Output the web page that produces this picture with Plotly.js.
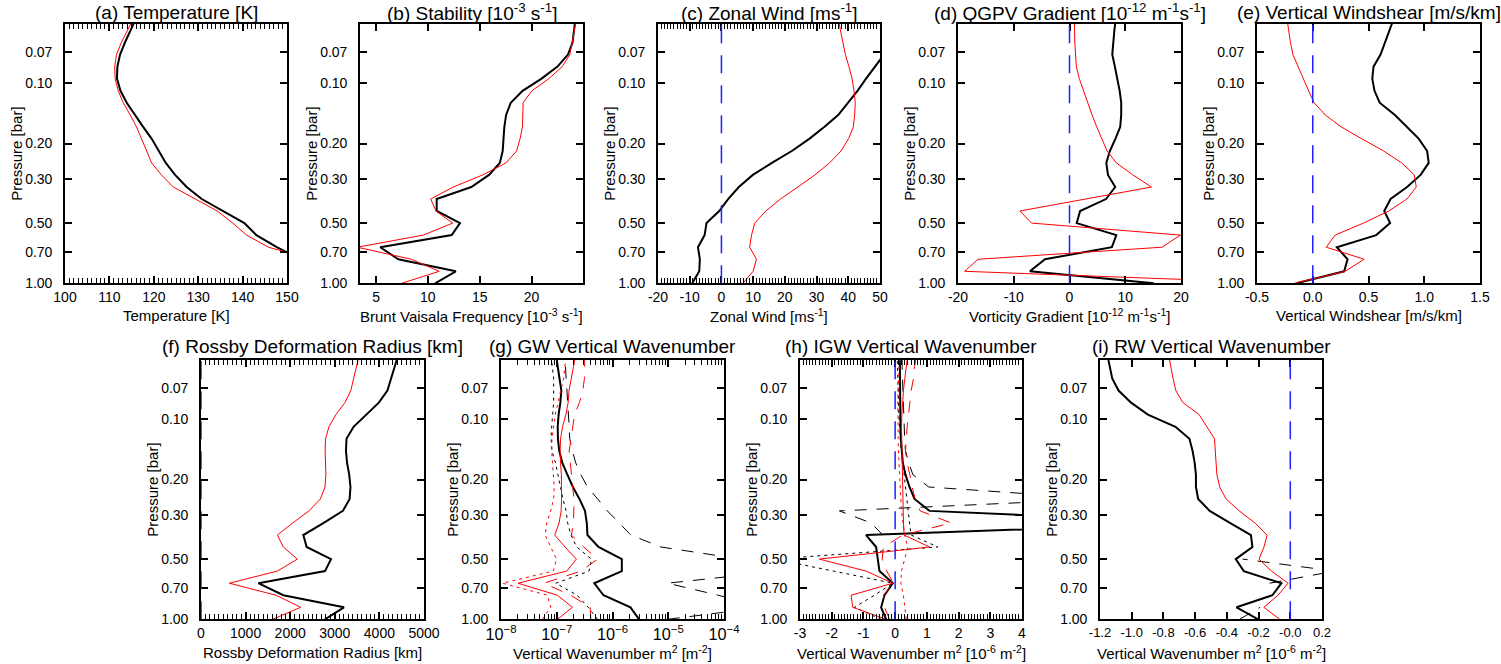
<!DOCTYPE html>
<html><head><meta charset="utf-8">
<script src="https://cdn.plot.ly/plotly-3.0.1.min.js"></script>
<style>html,body{margin:0;padding:0;background:#fff;} #chart{width:1501px;height:664px;}</style>
</head><body><div id="chart"></div>
<script>
// ---------------- DATA ----------------
// pressure levels [bar], bottom (1.0) to top
const pressure = [1.0, 0.871, 0.758, 0.660, 0.574, 0.500, 0.435, 0.379, 0.330, 0.287, 0.250, 0.218, 0.189, 0.165, 0.144, 0.125, 0.109, 0.0947, 0.0825, 0.0718, 0.0625, 0.0544, 0.0474];
const pressureTicks = [0.07, 0.1, 0.2, 0.3, 0.5, 0.7, 1.0];
const pressureTickText = ['0.07', '0.10', '0.20', '0.30', '0.50', '0.70', '1.00'];

// (a) Temperature [K]
const tempBlack = [161, 157, 153.1, 147.7, 143.1, 140.4, 135.5, 130.8, 127.4, 124.8, 122.7, 121.2, 119.5, 117.6, 115.8, 113.9, 112.5, 111.7, 111.8, 112.4, 113.5, 114.7, 116.0];
const tempRed   = [163, 160, 155.7, 145.8, 140.9, 137.8, 134.3, 129.2, 124.4, 121.7, 119.5, 118.4, 117.3, 116.1, 114.7, 113.1, 112.0, 111.3, 111.2, 111.6, 112.7, 114.0, 115.4];
// (b) Brunt Vaisala frequency [1e-3 s-1]
const bvBlack = [10.7, 12.7, 7.15, 5.4, 12.3, 13.1, 10.85, 10.85, 14.19, 15.9, 16.94, 17.22, 17.3, 17.38, 17.55, 18.0, 19.14, 20.97, 22.51, 23.52, 23.96, 24.1, 24.24];
const bvRed   = [7.47, 11.1, 8.4, 3.2, 9.56, 12.39, 10.78, 10.27, 12.45, 15.31, 17.54, 18.56, 18.9, 19.13, 19.16, 19.19, 20.04, 21.68, 22.96, 23.70, 23.93, 24.15, 24.34];
// (c) Zonal wind [m/s]
const windBlack = [-9.2, -7.0, -6.8, -7.4, -5.3, -4.7, -0.7, 2.1, 5.5, 9.9, 15.9, 22.2, 27.8, 32.5, 36.8, 40.0, 42.9, 45.6, 48.45, 51.3, 54.1, 56.9, 59.8];
const windRed   = [6.8, 10.0, 11.05, 8.9, 9.5, 10.5, 14.0, 18.6, 24.1, 29.5, 34.1, 37.7, 40.1, 41.6, 42.0, 42.2, 41.8, 41.2, 40.2, 39.1, 38.3, 37.6, 36.8];
// (d) QGPV gradient [1e-12 m-1 s-1]
const qgpvBlack = [15.1, -7.1, -4.4, 7.6, 8.4, 1.3, 1.9, 6.55, 8.2, 6.9, 6.6, 7.23, 8.25, 9.1, 9.27, 9.28, 9.0, 8.6, 8.14, 7.67, 7.8, 8.05, 8.3];
const qgpvRed   = [39, -18.8, -16.4, 16.6, 19.9, -6.8, -8.9, 3.1, 14.7, 11.35, 8.41, 6.74, 5.73, 4.88, 4.05, 3.26, 2.48, 1.76, 1.23, 1.05, 0.95, 0.9, 0.87];
// (e) Vertical windshear [m/s/km]
const shearBlack = [-0.148, 0.282, 0.312, 0.216, 0.569, 0.694, 0.641, 0.698, 0.846, 0.967, 1.04, 1.026, 0.95, 0.845, 0.737, 0.6, 0.554, 0.534, 0.545, 0.608, 0.65, 0.688, 0.727];
const shearRed   = [-0.166, 0.291, 0.461, 0.121, 0.201, 0.455, 0.681, 0.845, 0.928, 0.911, 0.798, 0.636, 0.437, 0.254, 0.113, 0.012, -0.037, -0.084, -0.127, -0.178, -0.2, -0.216, -0.231];
// (f) Rossby deformation radius [km]
const rossbyBlack = [2780, 3206, 1846, 1285, 2780, 2915, 2369, 2294, 2743, 3181, 3333, 3351, 3323, 3275, 3251, 3262, 3421, 3712, 3987, 4180, 4262, 4344, 4425];
const rossbyRed   = [1607, 2235, 1682, 635, 1712, 2160, 1846, 1712, 2055, 2422, 2677, 2780, 2800, 2792, 2783, 2792, 2869, 3023, 3228, 3359, 3419, 3491, 3550];
// (g) GW vertical wavenumber m^2 [m-2]
const gwBlack     = [3.0e-6, 2.1e-6, 6.9e-7, 4.7e-7, 1.47e-6, 1.47e-6, 5.6e-7, 3.55e-7, 3.46e-7, 3.21e-7, 2.55e-7, 1.95e-7, 1.55e-7, 1.26e-7, 1.11e-7, 1.05e-7, 1.04e-7, 1.08e-7, 1.16e-7, 1.21e-7, 1.12e-7, 1.05e-7, 9.7e-8];
const gwRed       = [1.03e-7, 1.91e-7, 1.03e-7, 2.02e-8, 1.51e-7, 2.25e-7, 1.41e-7, 9.2e-8, 1.10e-7, 1.20e-7, 1.22e-7, 1.23e-7, 1.21e-7, 1.17e-7, 1.15e-7, 1.17e-7, 1.27e-7, 1.46e-7, 1.60e-7, 1.66e-7, 1.85e-7, 2.0e-7, 2.19e-7];
const gwBlackDot  = [5.4e-7, 3.66e-7, 2.32e-7, 9.6e-8, 3.8e-7, 4.2e-7, 2.28e-7, 1.8e-7, 1.57e-7, 1.47e-7, 1.29e-7, 1.16e-7, 1.07e-7, 9.5e-8, 8.2e-8, 7.9e-8, 8.1e-8, 8.4e-8, 8.8e-8, 8.8e-8, 8.8e-8, 8.3e-8, 7.9e-8];
const gwRedDot    = [5.5e-8, 7.8e-8, 6.8e-8, 1.06e-8, 8.7e-8, 9.9e-8, 7.8e-8, 6.2e-8, 6.6e-8, 7.8e-8, 8.8e-8, 9.0e-8, 8.7e-8, 8.4e-8, 8.1e-8, 8.2e-8, 8.7e-8, 9.4e-8, 1.05e-7, 1.2e-7, 1.33e-7, 1.4e-7, 1.49e-7];
const gwBlackDash = [9.8e-6, 5e-4, 7.9e-5, 9.7e-6, 1e-3, 2e-4, 7.4e-6, 2.13e-6, 1.32e-6, 8.1e-7, 5.4e-7, 3.56e-7, 2.7e-7, 2.19e-7, 1.91e-7, 1.71e-7, 1.67e-7, 1.62e-7, 1.56e-7, 1.51e-7, 1.49e-7, 1.45e-7, 1.39e-7];
const gwRedDash   = [4.08e-7, 3.97e-7, 1.78e-7, 5.9e-8, 2.7e-7, 5.4e-7, 3.04e-7, 1.83e-7, 2.0e-7, 2.03e-7, 2.04e-7, 1.93e-7, 1.83e-7, 1.72e-7, 1.67e-7, 1.8e-7, 1.93e-7, 2.09e-7, 2.55e-7, 2.93e-7, 3.14e-7, 3.18e-7, 3.18e-7];
// (h) IGW vertical wavenumber m^2 [1e-6 m-2]
const igwBlack     = [-0.284, -0.442, -0.337, -0.074, -0.495, -0.547, -0.6, -0.916, 9.7, 1.084, 0.61, 0.453, 0.326, 0.242, 0.2, 0.179, 0.168, 0.163, 0.158, 0.158, 0.158, 0.147, 0.147];
const igwRed       = [-0.284, -1.337, -1.39, -0.074, -0.916, -2.39, 1.084, 0.284, 0.263, 0.253, 0.242, 0.232, 0.221, 0.211, 0.2, 0.2, 0.2, 0.211, 0.232, 0.263, 0.305, 0.347, 0.4];
const igwBlackDot  = [-0.442, -1.284, -0.653, -0.074, -1.94, -3.8, 1.347, 0.505, 0.453, 0.411, 0.379, 0.347, 0.305, 0.242, 0.189, 0.158, 0.137, 0.116, 0.105, 0.095, 0.084, 0.074, 0.063];
const igwRedDot    = [0.35, 0.3, 0.26, 0.18, 0.2, 0.3, 0.4, 0.3, 0.24, 0.2, 0.18, 0.158, 0.137, 0.116, 0.105, 0.095, 0.084, 0.084, 0.084, 0.095, 0.105, 0.116, 0.137];
const igwBlackDash = [null, null, null, null, null, null, null, -0.389, -0.758, -1.758, 6.56, 1.06, 0.558, 0.432, 0.326, 0.3, 0.284, 0.263, 0.242, 0.232, 0.232, 0.221, 0.221];
const igwRedDash   = [-0.179, -0.337, -0.368, -0.053, -0.263, -0.411, -0.368, 0.242, 1.768, 0.789, 0.632, 0.537, 0.463, 0.379, 0.326, 0.347, 0.379, 0.421, 0.463, 0.505, 0.579, 0.611, 0.684];
// (i) RW vertical wavenumber m^2 [1e-6 m-2]
const rwBlack     = [-0.203, -0.339, -0.113, -0.056, -0.293, -0.344, -0.239, -0.248, -0.378, -0.508, -0.581, -0.595, -0.595, -0.603, -0.616, -0.636, -0.724, -0.898, -1.004, -1.083, -1.123, -1.14, -1.154];
const rwRed       = [-0.066, -0.167, -0.077, -0.014, -0.119, -0.197, -0.166, -0.146, -0.222, -0.322, -0.405, -0.445, -0.463, -0.468, -0.472, -0.478, -0.526, -0.575, -0.677, -0.722, -0.739, -0.755, -0.768];
const rwBlackDash = [-0.32, -0.19, null, -0.13, 0.28, -0.30, null, null, null, null, null, null, null, null, null, null, null, null, null, null, null, null, null];

// x tick spacing per panel, and label replacements (ASCII minus etc.)
const tickStep = {a: 10, b: 5, c: 10, d: 10, e: 0.5, f: 1000, g: 1, h: 1, i: 0.2};
const minorStep = {a: 1, c: 1, f: 100, g: 'D1', h: 0.1};
const aliasMinus = {'\u22123': '-3', '\u22122': '-2', '\u22121': '-1', '\u221210': '-10', '\u221220': '-20', '\u22120.5': '-0.5'};
const aliasI = {'\u22121.2': '-1.2', '\u22121.0': '-1.0', '\u22120.8': '-0.8', '\u22120.6': '-0.6', '\u22120.4': '-0.4', '\u22120.2': '-0.2', '0.0': '-0.0'};

// ---------------- STYLE / LAYOUT ----------------
const FONT = 'Liberation Sans, Arial, Helvetica, sans-serif';
const W = 1501, H = 664;
const CLEAR = 'rgba(0,0,0,0)';
const PAD = '\u00a0\u00a0';
const BLACK = {color: 'black', width: 2, dash: 'solid'};
const RED = {color: 'red', width: 1, dash: 'solid'};
const BLACKDOT = {color: 'black', width: 1, dash: '3px,4px'};
const REDDOT = {color: 'red', width: 1, dash: '3px,4px'};
const BLACKDASH = {color: 'black', width: 1, dash: '12px,10px'};
const REDDASH = {color: 'red', width: 1, dash: '12px,10px'};

const ytitle = 'Pressure [bar]';
const panels = [
  {id: 'a', box: [65, 287, 24, 283.3], title: '(a) Temperature [K]', xtitle: 'Temperature [K]',
   range: [100, 150], tick0: 100, zero: false,
   series: [[tempBlack, BLACK], [tempRed, RED]]},
  {id: 'b', box: [360, 583, 24, 283.3], title: '(b) Stability [10<sup>-3</sup> s<sup>-1</sup>]', xtitle: 'Brunt Vaisala Frequency [10<sup>-3</sup> s<sup>-1</sup>]',
   range: [3.45, 24.97], tick0: 0, zero: false,
   series: [[bvBlack, BLACK], [bvRed, RED]]},
  {id: 'c', box: [658, 880, 24, 283.3], title: '(c) Zonal Wind [ms<sup>-1</sup>]', xtitle: 'Zonal Wind [ms<sup>-1</sup>]',
   range: [-20, 50], tick0: 0, alias: aliasMinus, zero: true,
   series: [[windBlack, BLACK], [windRed, RED]]},
  {id: 'd', box: [958, 1181, 24, 283.3], title: '(d) QGPV Gradient [10<sup>-12</sup> m<sup>-1</sup>s<sup>-1</sup>]', xtitle: 'Vorticity Gradient [10<sup>-12</sup> m<sup>-1</sup>s<sup>-1</sup>]',
   range: [-20, 20], tick0: 0, alias: aliasMinus, zero: true,
   series: [[qgpvBlack, BLACK], [qgpvRed, RED]]},
  {id: 'e', box: [1257, 1480, 24, 283.3], title: '(e) Vertical Windshear [m/s/km]', xtitle: 'Vertical Windshear [m/s/km]',
   range: [-0.5, 1.5], tick0: 0, fmt: '.1f', alias: aliasMinus, zero: true,
   series: [[shearBlack, BLACK], [shearRed, RED]]},
  {id: 'f', box: [201, 424, 360, 619.3], title: '(f) Rossby Deformation Radius [km]', xtitle: 'Rossby Deformation Radius [km]',
   range: [0, 5000], tick0: 0, zero: true,
   series: [[rossbyBlack, BLACK], [rossbyRed, RED]]},
  {id: 'g', box: [501, 724, 360, 619.3], title: '(g) GW Vertical Wavenumber', xtitle: 'Vertical Wavenumber m<sup>2</sup> [m<sup>-2</sup>]',
   range: [-8, -4], log: true, tick0: 0, zero: false, tickSize: 13,
   series: [[gwBlackDash, BLACKDASH], [gwBlackDot, BLACKDOT], [gwBlack, BLACK], [gwRedDash, REDDASH], [gwRedDot, REDDOT], [gwRed, RED]]},
  {id: 'h', box: [800, 1022, 360, 619.3], title: '(h) IGW Vertical Wavenumber', xtitle: 'Vertical Wavenumber m<sup>2</sup> [10<sup>-6</sup> m<sup>-2</sup>]',
   range: [-3, 4], tick0: 0, alias: aliasMinus, zero: true,
   series: [[igwBlackDash, BLACKDASH], [igwBlackDot, BLACKDOT], [igwBlack, BLACK], [igwRedDash, REDDASH], [igwRedDot, REDDOT], [igwRed, RED]]},
  {id: 'i', box: [1100, 1322, 360, 619.3], title: '(i) RW Vertical Wavenumber', xtitle: 'Vertical Wavenumber m<sup>2</sup> [10<sup>-6</sup> m<sup>-2</sup>]',
   range: [-1.2, 0.2], tick0: 0, fmt: '.1f', alias: aliasI, zero: true, tickSize: 13,
   series: [[rwBlackDash, BLACKDASH], [rwBlack, BLACK], [rwRed, RED]]}
];

const traces = [];
const layout = {
  width: W, height: H, margin: {l: 0, r: 0, t: 0, b: 0},
  paper_bgcolor: 'white', plot_bgcolor: 'white', showlegend: false,
  font: {family: FONT, color: 'black'},
  annotations: [], shapes: []
};

panels.forEach((pn, i) => {
  const s = i === 0 ? '' : String(i + 1);
  const [l, r, t, b] = pn.box;
  const xa = {
    domain: [l / W, r / W], anchor: 'y' + s,
    type: pn.log ? 'log' : 'linear', range: pn.range,
    showline: true, linecolor: 'black', linewidth: 2, mirror: 'allticks',
    ticks: 'inside', ticklen: 7, tickwidth: 1.5, tickcolor: 'black',
    tickmode: 'linear', tick0: pn.tick0, dtick: tickStep[pn.id],
    showgrid: true, gridcolor: CLEAR, zeroline: true, zerolinecolor: CLEAR,
    tickfont: {family: FONT, size: pn.tickSize || 14, color: 'black'}
  };
  if (pn.log) { xa.exponentformat = 'power'; xa.showexponent = 'all'; }
  if (pn.fmt) xa.tickformat = pn.fmt;
  if (pn.alias) xa.labelalias = pn.alias;
  if (minorStep[pn.id] !== undefined) {
    xa.minor = {ticks: 'inside', ticklen: 5, tickwidth: 1, tickcolor: 'black', dtick: minorStep[pn.id]};
    if (!pn.log) xa.minor.tick0 = 0;
  }
  const ya = {
    domain: [1 - b / H, 1 - t / H], anchor: 'x' + s,
    type: 'log', range: [0, Math.log10(0.0505)],
    showline: true, linecolor: 'black', linewidth: 2, mirror: 'allticks',
    ticks: 'inside', ticklen: 7, tickwidth: 1.5, tickcolor: 'black',
    tickmode: 'array', tickvals: pressureTicks, ticktext: pressureTickText.map(tx => tx + PAD),
    showgrid: false, zeroline: false,
    tickfont: {family: FONT, size: 14, color: 'black'}
  };
  layout['xaxis' + s] = xa;
  layout['yaxis' + s] = ya;

  pn.series.forEach(([vals, st]) => {
    traces.push({
      type: 'scatter', mode: 'lines', x: vals, y: pressure,
      xaxis: 'x' + s, yaxis: 'y' + s, connectgaps: false, hoverinfo: 'skip',
      line: {color: st.color, width: st.width, dash: st.dash}
    });
  });

  if (pn.zero) {
    layout.shapes.push({
      type: 'line', xref: 'x' + s, yref: 'y' + s + ' domain', x0: 0, x1: 0, y0: 0, y1: 1,
      line: {color: '#1f1fff', width: 1.5, dash: '18px,12px'}, layer: 'above'
    });
  }

  const topRow = t < 100;
  const cx = (l + r) / 2 / W;
  layout.annotations.push({
    text: pn.title, xref: 'paper', yref: 'paper', x: cx, y: 1 - (topRow ? 12 : 346) / H,
    xanchor: 'center', yanchor: 'middle', showarrow: false,
    font: {family: FONT, size: 19, color: 'black'}
  });
  layout.annotations.push({
    text: pn.xtitle, xref: 'paper', yref: 'paper', x: cx, y: 1 - (topRow ? 315 : 652) / H,
    xanchor: 'center', yanchor: 'middle', showarrow: false,
    font: {family: FONT, size: 15, color: 'black'}
  });
  layout.annotations.push({
    text: ytitle, xref: 'paper', yref: 'paper', x: (l - 48) / W, y: 1 - (t + b) / 2 / H,
    xanchor: 'center', yanchor: 'middle', showarrow: false, textangle: -90,
    font: {family: FONT, size: 15, color: 'black'}
  });
});

Plotly.newPlot('chart', traces, layout, {displayModeBar: false});
</script></body></html>
